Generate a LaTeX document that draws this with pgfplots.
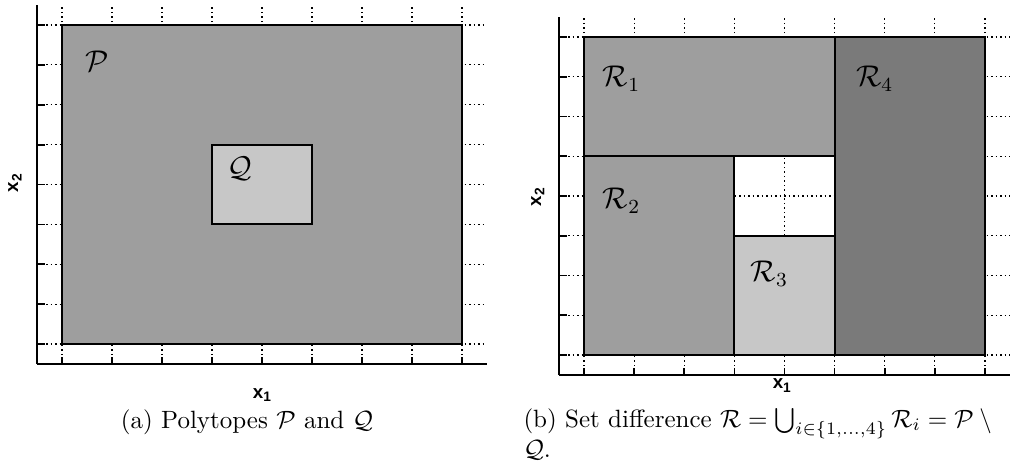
\documentclass[border=0pt]{standalone}
\usepackage{pgfplots}
\pgfplotsset{compat=1.18}
\usepackage{amssymb}
\usepackage{fontspec}
\newfontfamily\hv{Liberation Sans}

\definecolor{regA}{gray}{0.62}
\definecolor{regB}{gray}{0.78}
\definecolor{regD}{gray}{0.48}

\newcommand{\axlab}[1]{{\hv\bfseries\fontsize{7.5}{8}\selectfont x\raisebox{-0.35ex}{\fontsize{5.5}{6}\selectfont #1}}}

\pgfplotsset{
  polyaxis/.style={
    scale only axis,
    anchor=south west,
    xmin=-4.5, xmax=4.5, ymin=-4.5, ymax=4.5,
    axis x line*=bottom, axis y line*=left,
    axis line style={black, line width=0.9pt},
    xtick={-4,...,4}, ytick={-4,...,4},
    xticklabels={}, yticklabels={},
    tick align=inside,
    major tick length=3pt,
    tick style={black, line width=0.7pt},
    grid=major,
    grid style={black, line width=0.5pt, dash pattern=on 0.6pt off 1.2pt},
    xlabel={\axlab{1}},
    ylabel={\axlab{2}},
  },
  region/.style={draw=black, line width=0.8pt, fill=#1},
}

\begin{document}
\begin{tikzpicture}
\path[use as bounding box] (0,0) rectangle (404.8pt,188.4pt);

% (a) polytope P with the smaller box Q inside it
\begin{axis}[polyaxis,
  at={(14.8pt,42.8pt)}, width=180pt, height=143.6pt,
  xlabel style={at={(axis description cs:0.5,-0.086)}, anchor=center, inner sep=0pt},
  ylabel style={at={(axis description cs:-0.049,0.504)}, anchor=center, rotate=0, inner sep=0pt},
]
\addplot[region=regA] coordinates {(-4,-4) (4,-4) (4,4) (-4,4)} -- cycle;
\addplot[region=regB] coordinates {(-1,-1) (1,-1) (1,1) (-1,1)} -- cycle;
\node at (axis cs:-3.3,3.1) {\large$\mathcal{P}$};
\node at (axis cs:-0.45,0.4) {\large$\mathcal{Q}$};
\end{axis}

% (b) the four pieces of P \ Q
\begin{axis}[polyaxis,
  at={(223.6pt,38.4pt)}, width=180.4pt, height=143.2pt,
  xlabel style={at={(axis description cs:0.494,-0.03)}, anchor=center, inner sep=0pt},
  ylabel style={at={(axis description cs:-0.047,0.497)}, anchor=center, rotate=0, inner sep=0pt},
]
\addplot[region=regA] coordinates {(-4,1) (1,1) (1,4) (-4,4)} -- cycle;
\addplot[region=regA] coordinates {(-4,-4) (-1,-4) (-1,1) (-4,1)} -- cycle;
\addplot[region=regB] coordinates {(-1,-4) (1,-4) (1,-1) (-1,-1)} -- cycle;
\addplot[region=regD] coordinates {(1,-4) (4,-4) (4,4) (1,4)} -- cycle;
\node at (axis cs:-3.25,2.95) {\large$\mathcal{R}_1$};
\node at (axis cs:-3.25,-0.12) {\large$\mathcal{R}_2$};
\node at (axis cs:-0.3,-1.95) {\large$\mathcal{R}_3$};
\node at (axis cs:1.8,2.95) {\large$\mathcal{R}_4$};
\end{axis}

\node[anchor=base, inner sep=0pt] at (98.8pt,17.2pt)
  {(a) Polytopes $\mathcal{P}$ and $\mathcal{Q}$};
\node[anchor=base west, inner sep=0pt] at (209.2pt,17.6pt)
  {(b) Set difference $\mathcal{R} = \bigcup_{i\in\{1,\ldots,4\}} \mathcal{R}_i = \mathcal{P} \setminus{}$};
\node[anchor=base west, inner sep=0pt] at (209.2pt,5.6pt) {$\mathcal{Q}$.};
\end{tikzpicture}
\end{document}
